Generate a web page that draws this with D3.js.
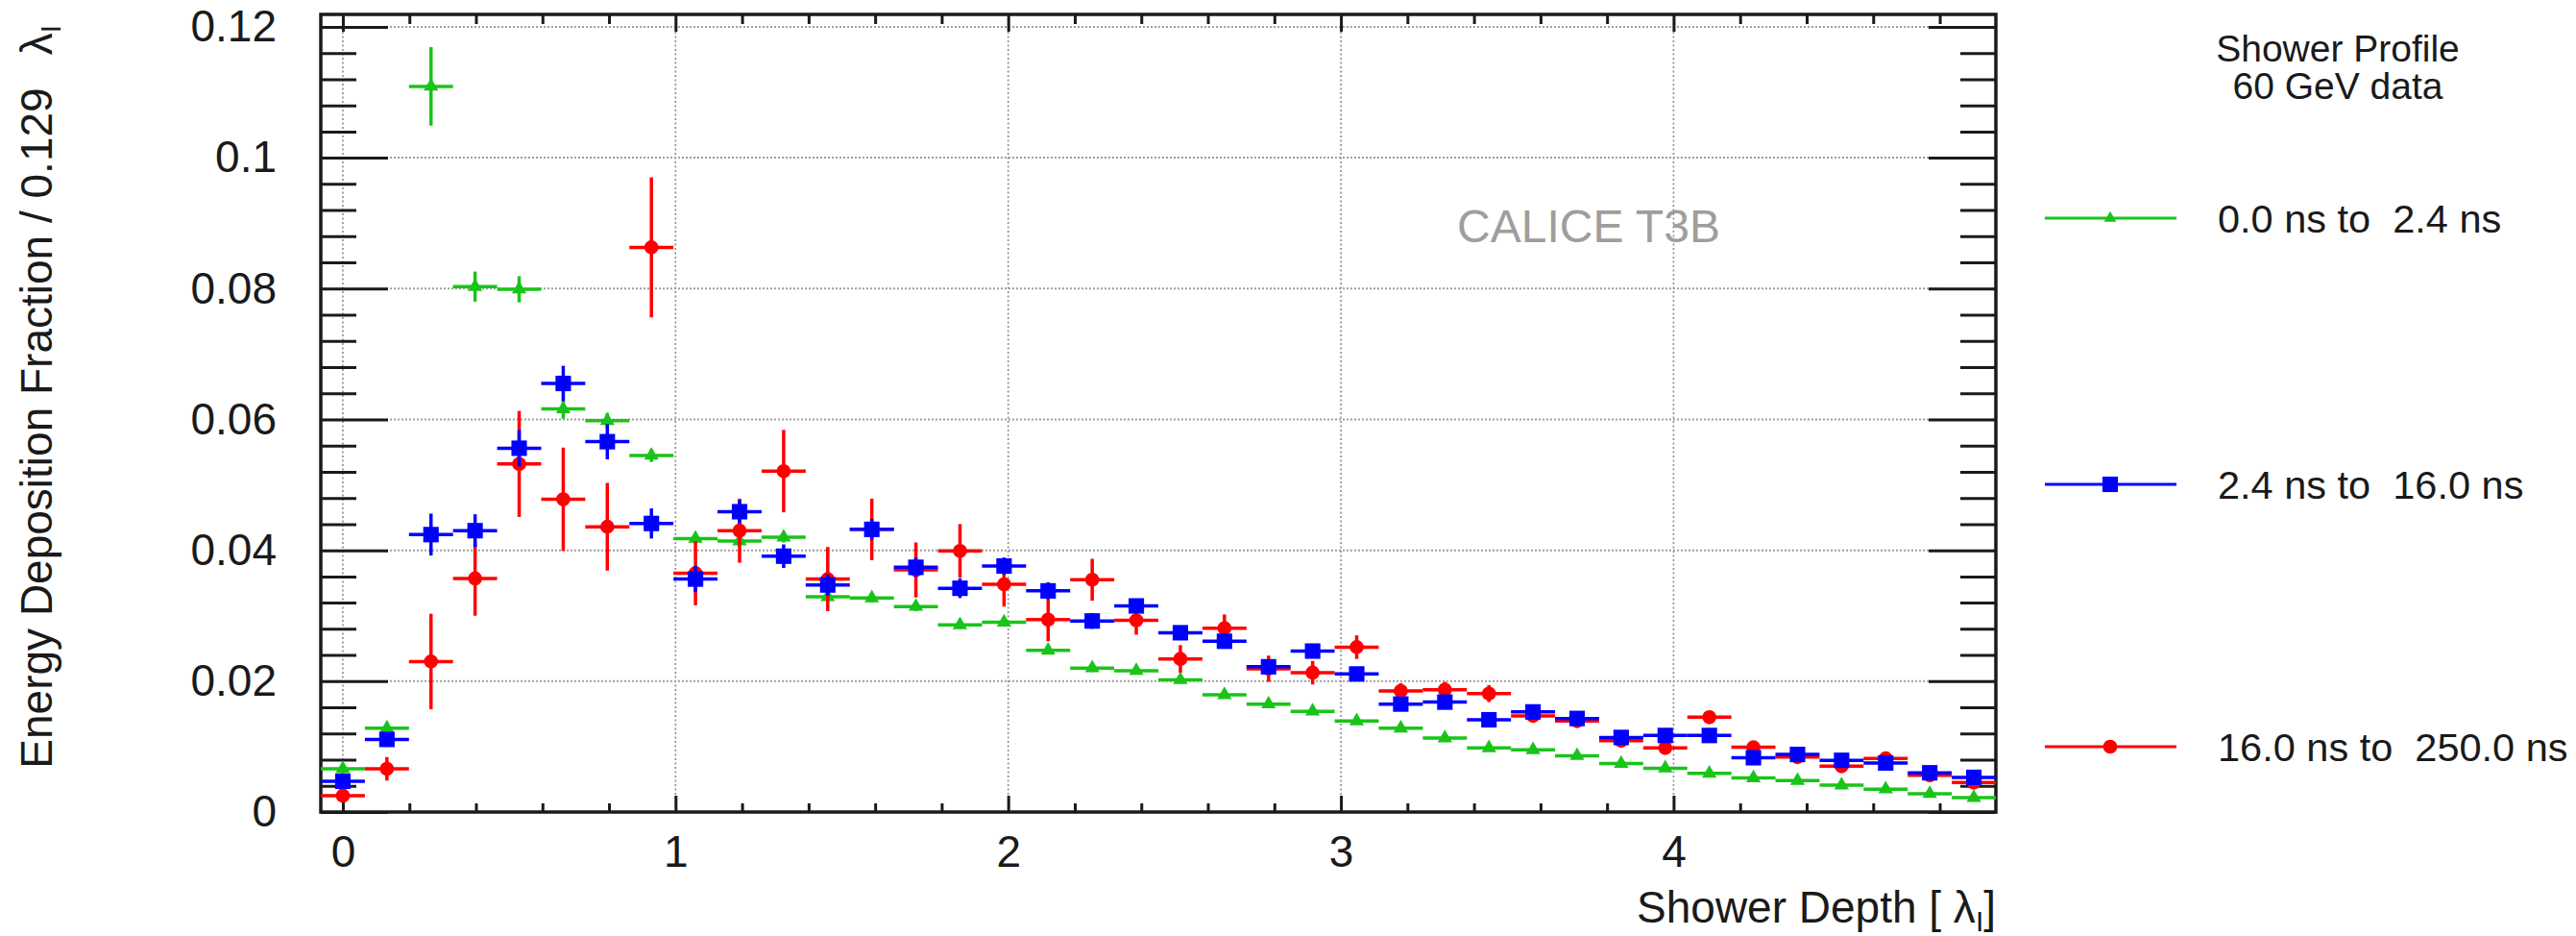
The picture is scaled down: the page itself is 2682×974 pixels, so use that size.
<!DOCTYPE html>
<html>
<head>
<meta charset="utf-8">
<script src="https://cdn.jsdelivr.net/npm/d3@7"></script>
<style>
  html, body { margin: 0; padding: 0; background: #fff; overflow: hidden; }
  svg { display: block; font-family: "Liberation Sans", Arial, Helvetica, sans-serif; }
</style>
</head>
<body>
<svg id="chart" width="2682" height="974"></svg>
<script>
// Shower depth bin centres, in units of nuclear interaction length
const binWidth = 0.1325;
const depth = [0, 0.1325, 0.265, 0.3975, 0.53, 0.6625, 0.795, 0.9275, 1.06, 1.1925,
  1.325, 1.4575, 1.59, 1.7225, 1.855, 1.9875, 2.12, 2.2525, 2.385, 2.5175,
  2.65, 2.7825, 2.915, 3.0475, 3.18, 3.3125, 3.445, 3.5775, 3.71, 3.8425,
  3.975, 4.1075, 4.24, 4.3725, 4.505, 4.6375, 4.77, 4.9025];

// Energy deposition fraction per bin, three time windows
const early = [0.0066, 0.0128, 0.1109, 0.0803, 0.0799, 0.0616, 0.0598, 0.0545, 0.0418, 0.0414,
  0.0420, 0.0329, 0.0327, 0.0314, 0.0286, 0.0290, 0.0247, 0.0220, 0.0216, 0.0202,
  0.0179, 0.0165, 0.0154, 0.0139, 0.0128, 0.0113, 0.0098, 0.0095, 0.0086, 0.0074,
  0.0067, 0.0059, 0.0052, 0.0048, 0.0041, 0.0035, 0.0028, 0.0022];
const earlyErr = [0.0009, 0.0009, 0.0060, 0.0023, 0.0020, 0.0015, 0.0012, 0.0010, 0.0008, 0.0008,
  0.0008, 0.0007, 0.0007, 0.0007, 0.0006, 0.0006, 0.0006, 0.0006, 0.0006, 0.0005,
  0.0005, 0.0005, 0.0005, 0.0005, 0.0005, 0.0004, 0.0004, 0.0004, 0.0004, 0.0004,
  0.0004, 0.0004, 0.0004, 0.0004, 0.0004, 0.0004, 0.0004, 0.0004];

const middle = [0.0047, 0.0111, 0.0424, 0.0430, 0.0556, 0.0655, 0.0566, 0.0441, 0.0356, 0.0459,
  0.0391, 0.0347, 0.0432, 0.0374, 0.0342, 0.0376, 0.0338, 0.0292, 0.0315, 0.0274,
  0.0261, 0.0222, 0.0246, 0.0211, 0.0165, 0.0168, 0.0141, 0.0153, 0.0143, 0.0114,
  0.0117, 0.0117, 0.0083, 0.0088, 0.0079, 0.0075, 0.0060, 0.0053];
const middleErr = [0.0010, 0.0010, 0.0032, 0.0025, 0.0028, 0.0027, 0.0027, 0.0023, 0.0020, 0.0018,
  0.0018, 0.0016, 0.0016, 0.0015, 0.0015, 0.0013, 0.0013, 0.0012, 0.0011, 0.0011,
  0.0010, 0.0010, 0.0009, 0.0009, 0.0008, 0.0008, 0.0008, 0.0008, 0.0008, 0.0007,
  0.0007, 0.0007, 0.0007, 0.0007, 0.0006, 0.0006, 0.0006, 0.0006];

const late = [0.0025, 0.0066, 0.0230, 0.0357, 0.0532, 0.0478, 0.0436, 0.0863, 0.0365, 0.0430,
  0.0521, 0.0356, 0.0432, 0.0370, 0.0399, 0.0348, 0.0294, 0.0355, 0.0293, 0.0234,
  0.0281, 0.0219, 0.0213, 0.0252, 0.0185, 0.0187, 0.0181, 0.0147, 0.0139, 0.0109,
  0.0098, 0.0145, 0.0099, 0.0084, 0.0070, 0.0082, 0.0056, 0.0045];
const lateErr = [0.0009, 0.0018, 0.0073, 0.0057, 0.0081, 0.0079, 0.0067, 0.0107, 0.0049, 0.0049,
  0.0063, 0.0049, 0.0047, 0.0042, 0.0041, 0.0034, 0.0033, 0.0032, 0.0022, 0.0021,
  0.0021, 0.0020, 0.0018, 0.0018, 0.0012, 0.0012, 0.0013, 0.0010, 0.0010, 0.0009,
  0.0009, 0.0009, 0.0008, 0.0008, 0.0008, 0.0007, 0.0007, 0.0007];

const seriesLabels = ["0.0 ns to  2.4 ns", "2.4 ns to  16.0 ns", "16.0 ns to  250.0 ns"];
const legendTitle = ["Shower Profile", "60 GeV data"];

const xTickValues = [0, 1, 2, 3, 4];
const xTickLabels = ["0", "1", "2", "3", "4"];
const yTickValues = [0, 0.02, 0.04, 0.06, 0.08, 0.1, 0.12];
const yTickLabels = ["0", "0.02", "0.04", "0.06", "0.08", "0.1", "0.12"];

// ---- layout ----
const frame = { left: 334, right: 2078, top: 15, bottom: 845 };
const svg = d3.select("#chart");
svg.append("rect").attr("width", 2682).attr("height", 974).attr("fill", "#fff");

const x = d3.scaleLinear().domain([-binWidth / 2, depth[depth.length - 1] + binWidth / 2])
  .range([frame.left, frame.right]);
const y = d3.scaleLinear().domain([0, 0.1219]).range([frame.bottom, frame.top]);

const ink = "#1a1a1a";

// grid
const grid = svg.append("g").attr("fill", "none");
grid.selectAll("line.gx").data(xTickValues).join("line")
  .attr("x1", d => x(d)).attr("x2", d => x(d))
  .attr("y1", frame.top).attr("y2", frame.bottom)
  .attr("stroke", "#8c8c8c").attr("stroke-width", 1.6).attr("stroke-dasharray", "2,2.5");
grid.selectAll("line.gy").data(yTickValues.filter(v => v > 0)).join("line")
  .attr("x1", frame.left).attr("x2", frame.right)
  .attr("y1", d => y(d)).attr("y2", d => y(d))
  .attr("stroke", "#a0a0a0").attr("stroke-width", 2).attr("stroke-dasharray", "2,2");

// axes
const yMinor = d3.range(0, 0.1219, 0.004).filter(v => Math.abs(v / 0.02 - Math.round(v / 0.02)) > 1e-6);
const xMinor = d3.range(0, 4.97, 0.2).filter(v => Math.abs(v - Math.round(v)) > 1e-6);

function styleAxis(g) {
  g.select(".domain").remove();
  g.selectAll("line").attr("stroke", ink).attr("stroke-width", 3);
  g.selectAll("text").attr("font-size", 46).attr("fill", ink)
    .attr("font-family", "'Liberation Sans', Arial, Helvetica, sans-serif");
}

svg.append("g").attr("transform", `translate(${frame.left},0)`)
  .call(d3.axisLeft(y).tickValues(yTickValues).tickFormat((d, i) => yTickLabels[i])
    .tickSize(-70).tickPadding(46))
  .call(styleAxis);
svg.append("g").attr("transform", `translate(${frame.left},0)`)
  .call(d3.axisLeft(y).tickValues(yMinor).tickFormat("").tickSize(-37))
  .call(styleAxis);
svg.append("g").attr("transform", `translate(${frame.right},0)`)
  .call(d3.axisRight(y).tickValues(yTickValues).tickFormat("").tickSize(-70))
  .call(styleAxis);
svg.append("g").attr("transform", `translate(${frame.right},0)`)
  .call(d3.axisRight(y).tickValues(yMinor).tickFormat("").tickSize(-37))
  .call(styleAxis);

svg.append("g").attr("transform", `translate(0,${frame.bottom})`)
  .call(d3.axisBottom(x).tickValues(xTickValues).tickFormat((d, i) => xTickLabels[i])
    .tickSize(-17).tickPadding(24))
  .call(styleAxis);
svg.append("g").attr("transform", `translate(0,${frame.bottom})`)
  .call(d3.axisBottom(x).tickValues(xMinor).tickFormat("").tickSize(-9))
  .call(styleAxis);
svg.append("g").attr("transform", `translate(0,${frame.top})`)
  .call(d3.axisTop(x).tickValues(xTickValues).tickFormat("").tickSize(-18))
  .call(styleAxis);
svg.append("g").attr("transform", `translate(0,${frame.top})`)
  .call(d3.axisTop(x).tickValues(xMinor).tickFormat("").tickSize(-10))
  .call(styleAxis);

// frame
svg.append("rect")
  .attr("x", frame.left).attr("y", frame.top)
  .attr("width", frame.right - frame.left).attr("height", frame.bottom - frame.top)
  .attr("fill", "none").attr("stroke", ink).attr("stroke-width", 3.5);

// axis titles
const xt = svg.append("text").attr("x", frame.right).attr("y", 960)
  .attr("text-anchor", "end").attr("font-size", 46).attr("fill", ink);
xt.append("tspan").text("Shower Depth [ \u03bb");
xt.append("tspan").attr("font-size", 30).attr("dy", 9).text("I");
xt.append("tspan").attr("dy", -9).text("]");

const yt = svg.append("text").attr("transform", "translate(54,26) rotate(-90)")
  .attr("text-anchor", "end").attr("font-size", 46).attr("fill", ink);
yt.append("tspan").text("Energy Deposition Fraction / 0.129");
yt.append("tspan").attr("dx", 34).text("\u03bb");
yt.append("tspan").attr("font-size", 30).attr("dy", 9).text("I");

// watermark
svg.append("text").attr("x", 1517).attr("y", 252)
  .attr("font-size", 48).attr("fill", "#9e9e9e").text("CALICE T3B");

// data series
const series = [
  { name: seriesLabels[0], values: early, errors: earlyErr, color: "#19c419", symbol: d3.symbolTriangle, size: 100, legendSize: 70 },
  { name: seriesLabels[1], values: middle, errors: middleErr, color: "#0000ff", symbol: d3.symbolSquare, size: 260, legendSize: 260 },
  { name: seriesLabels[2], values: late, errors: lateErr, color: "#ff0000", symbol: d3.symbolCircle, size: 170, legendSize: 170 }
];
const drawOrder = [series[0], series[2], series[1]];

const plot = svg.append("g");
drawOrder.forEach(s => {
  const pts = depth.map((d, i) => ({ d, v: s.values[i], e: s.errors[i] }));
  const g = plot.append("g").attr("stroke", s.color).attr("fill", s.color);
  g.selectAll("line.h").data(pts).join("line")
    .attr("x1", p => x(p.d - binWidth / 2)).attr("x2", p => x(p.d + binWidth / 2))
    .attr("y1", p => y(p.v)).attr("y2", p => y(p.v)).attr("stroke-width", 3.5);
  g.selectAll("line.v").data(pts).join("line")
    .attr("x1", p => x(p.d)).attr("x2", p => x(p.d))
    .attr("y1", p => y(p.v - p.e)).attr("y2", p => y(p.v + p.e)).attr("stroke-width", 3.5);
  g.selectAll("path").data(pts).join("path")
    .attr("stroke", "none")
    .attr("transform", p => `translate(${x(p.d)},${y(p.v)})`)
    .attr("d", d3.symbol(s.symbol, s.size)());
});

// legend
const legend = svg.append("g").attr("fill", ink);
const header = legend.append("text").attr("text-anchor", "middle").attr("font-size", 39);
legendTitle.forEach((t, i) => {
  header.append("tspan").attr("x", 2434).attr("y", 64 + i * 39).text(t);
});

const legendY = [227, 504, 777];
series.forEach((s, i) => {
  const ly = legendY[i];
  legend.append("line").attr("x1", 2129).attr("x2", 2266).attr("y1", ly).attr("y2", ly)
    .attr("stroke", s.color).attr("stroke-width", 3);
  legend.append("path").attr("transform", `translate(2197,${ly})`)
    .attr("fill", s.color).attr("d", d3.symbol(s.symbol, s.legendSize)());
  legend.append("text").attr("x", 2309).attr("y", ly).attr("dy", "0.36em")
    .attr("font-size", 41.5).attr("xml:space", "preserve").style("white-space", "pre")
    .text(s.name);
});
</script>
</body>
</html>
